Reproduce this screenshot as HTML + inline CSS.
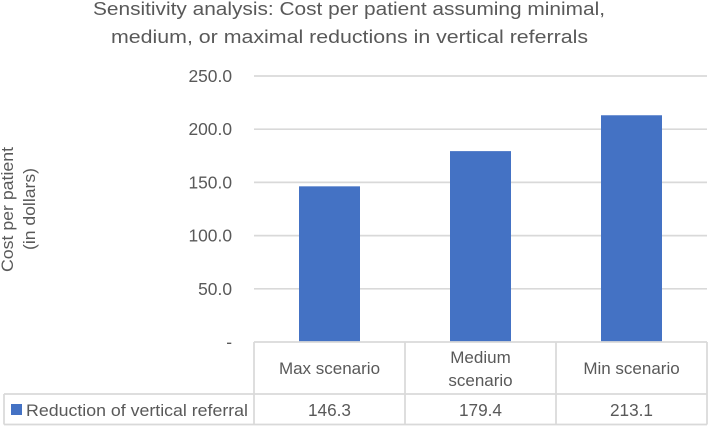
<!DOCTYPE html>
<html>
<head>
<meta charset="utf-8">
<style>
html,body{margin:0;padding:0;background:#fff;}
svg{display:block;}
text{font-family:"Liberation Sans",sans-serif;fill:#595959;}
</style>
</head>
<body>
<svg id="chart" width="709" height="426" viewBox="0 0 709 426" xmlns="http://www.w3.org/2000/svg">
  <text x="349" y="15" font-size="18.5" text-anchor="middle" textLength="512" lengthAdjust="spacingAndGlyphs">Sensitivity analysis: Cost per patient assuming minimal,</text>
  <text x="349.5" y="43" font-size="18.5" text-anchor="middle" textLength="477" lengthAdjust="spacingAndGlyphs">medium, or maximal reductions in vertical referrals</text>
  <g>
    <text transform="translate(13,209.5) rotate(-90)" font-size="16.5" text-anchor="middle" textLength="125" lengthAdjust="spacingAndGlyphs">Cost per patient</text>
    <text transform="translate(35,209) rotate(-90)" font-size="16.5" text-anchor="middle" textLength="82" lengthAdjust="spacingAndGlyphs">(in dollars)</text>
  </g>
  <g id="grid"></g>
  <g id="bars"></g>
  <g id="table"></g>
  <g id="labels"></g>
</svg>
<script>
const categories = [["Max scenario"], ["Medium", "scenario"], ["Min scenario"]];
const seriesName = "Reduction of vertical referral";
const seriesValues = [146.3, 179.4, 213.1];
const yTicks = [0, 50, 100, 150, 200, 250];
const yTickLabels = ["-", "50.0", "100.0", "150.0", "200.0", "250.0"];

const NS = "http://www.w3.org/2000/svg";
const plotLeft = 254, plotRight = 707, plotTop = 76, plotBottom = 342;
const rowBottom = 394, tableBottom = 424.5, tableLeft = 4;
const yMax = yTicks[yTicks.length - 1];
const bandWidth = (plotRight - plotLeft) / categories.length;
const barWidth = 61;
const lineColor = "#d9d9d9";
const barColor = "#4472c4";

function yScale(v) { return plotBottom - (v / yMax) * (plotBottom - plotTop); }
function xBand(i) { return plotLeft + i * bandWidth; }
function make(tag, attrs, parent, txt) {
  const el = document.createElementNS(NS, tag);
  for (const k in attrs) el.setAttribute(k, attrs[k]);
  if (txt !== undefined) el.textContent = txt;
  parent.appendChild(el);
  return el;
}
const gridG = document.getElementById("grid");
const barsG = document.getElementById("bars");
const tableG = document.getElementById("table");
const labelsG = document.getElementById("labels");

yTicks.forEach(function (t, i) {
  if (t > 0) {
    const ln = make("line", {x1: plotLeft, x2: plotRight, y1: yScale(t), y2: yScale(t), stroke: lineColor, "stroke-width": 1.7}, gridG);
    
    
  }
  const lab = make("text", {x: 232, y: yScale(t) + 6, "font-size": 17.4, "text-anchor": "end"}, labelsG, yTickLabels[i]);
  
  
});

seriesValues.forEach(function (v, i) {
  const cx = xBand(i) + bandWidth / 2;
  const bar = make("rect", {x: cx - barWidth / 2, y: yScale(v), width: barWidth, height: plotBottom - yScale(v), fill: barColor}, barsG);
  
  
  const val = make("text", {x: cx, y: 416, "font-size": 17.2, "text-anchor": "middle"}, labelsG, v.toFixed(1));
  
  
  const lines = categories[i];
  lines.forEach(function (s, j) {
    const yy = lines.length === 1 ? 374 : 363 + j * 23;
    const c = make("text", {x: cx, y: yy, "font-size": 17, "text-anchor": "middle"}, labelsG, s);
    
    
  });
});

function tableLine(x1, y1, x2, y2) {
  const l = make("line", {x1: x1, y1: y1, x2: x2, y2: y2, stroke: lineColor, "stroke-width": 1.7}, tableG);
  
  
}
tableLine(plotLeft, plotBottom, plotRight, plotBottom);
tableLine(tableLeft, rowBottom, plotRight, rowBottom);
tableLine(tableLeft, tableBottom, plotRight, tableBottom);
tableLine(tableLeft, rowBottom, tableLeft, tableBottom);
categories.forEach(function (c, i) {
  tableLine(xBand(i), plotBottom, xBand(i), tableBottom);
});
tableLine(plotRight, plotBottom, plotRight, tableBottom);

const key = make("rect", {x: 11, y: 404, width: 11, height: 11, fill: barColor}, tableG);


const sn = make("text", {x: 26, y: 416, "font-size": 17, textLength: 222, lengthAdjust: "spacingAndGlyphs"}, labelsG, seriesName);


</script>
</body>
</html>
